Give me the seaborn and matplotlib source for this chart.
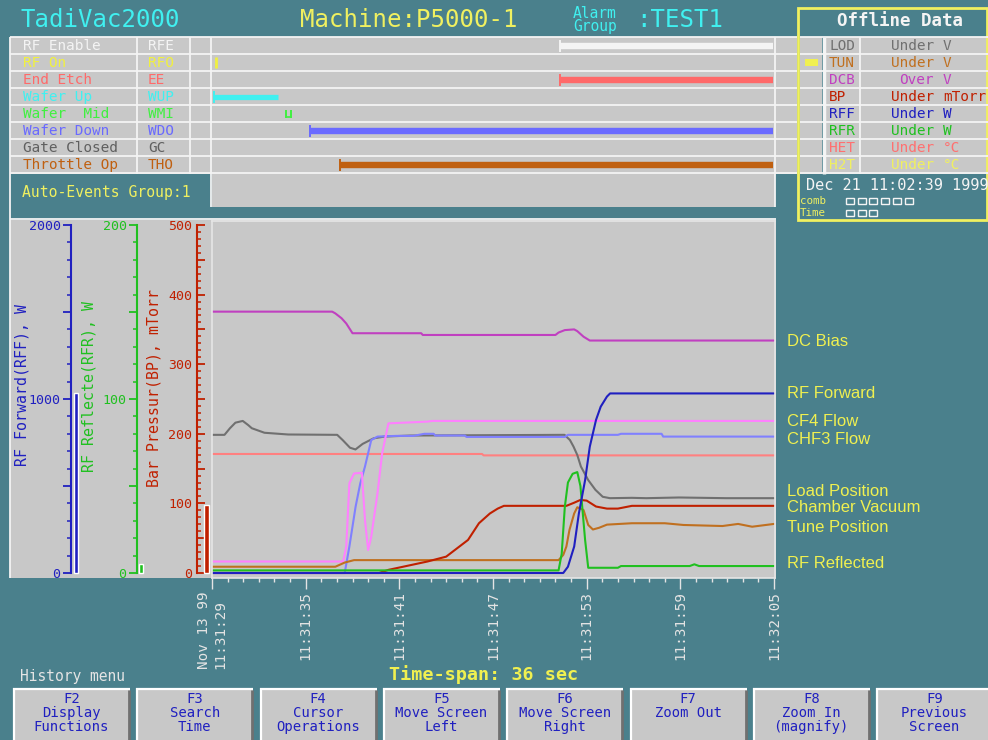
import numpy as np
import matplotlib
matplotlib.use("Agg")
import matplotlib.pyplot as plt
import seaborn as sns
from matplotlib.patches import Rectangle
from matplotlib.ticker import FixedLocator, MultipleLocator

W, H = 988, 740
TEAL = "#4a808c"
PANEL = "#c8c8c8"
WHITE = "#f4f4f4"
YELLOW = "#f0f050"
CYAN = "#40f0f0"
BTN_BLUE = "#2020c0"
TICK_C = "#e4e4e4"

# time axis (seconds from 11:31:29)
TIME_SPAN = 36
TIME_TICKS = [0, 6, 12, 18, 24, 30, 36]
TIME_LABELS = ["Nov 13 99\n11:31:29", "11:31:35", "11:31:41", "11:31:47",
               "11:31:53", "11:31:59", "11:32:05"]

# event table
EVENT_NAMES = ["RF Enable", "RF On", "End Etch", "Wafer Up", "Wafer  Mid",
               "Wafer Down", "Gate Closed", "Throttle Op"]
EVENT_CODES = ["RFE", "RFO", "EE", "WUP", "WMI", "WDO", "GC", "THO"]
EVENT_COLORS = ["#f4f4f4", "#f0f040", "#ff6a6a", "#40f0f0", "#40f040",
                "#6a6aff", "#606060", "#c06010"]
EVENT_START = [22.3, 0.25, 22.3, 0.1, 4.75, 6.3, np.nan, 8.2]
EVENT_END = [35.95, 0.25, 35.95, 4.2, 5.05, 35.95, np.nan, 35.95]

# offline data table
OFF_CODES = ["LOD", "TUN", "DCB", "BP", "RFF", "RFR", "HET", "H2T"]
OFF_COND = ["Under", "Under", "Over", "Under", "Under", "Under", "Under", "Under"]
OFF_UNITS = ["V", "V", "V", "mTorr", "W", "W", "°C", "°C"]
OFF_COLORS = ["#707070", "#c07020", "#c040c0", "#c02000", "#2020c0",
              "#20c020", "#ff7070", "#f0f060"]
OFF_FLAG = [0, 1, 0, 0, 0, 0, 0, 0]

# scale meters (full scale, current value)
RFF_FULL, RFF_NOW = 2000, 1036
RFR_FULL, RFR_NOW = 200, 5
BP_FULL, BP_NOW = 500, 97

# trends
DCB_T = [0, 7.7, 7.9, 8.3, 8.6, 9.0, 13.4, 13.5, 22.0, 22.2, 22.6, 23.2, 23.4, 23.8, 24.2, 36]
DCB_PCT = [75.1, 75.1, 74.6, 73.2, 71.7, 68.9, 68.9, 68.4, 68.4, 69.1, 69.8, 70.0, 69.5, 67.9, 66.8, 66.8]

LOD_T = [0, 0.8, 1.15, 1.5, 1.97, 2.32, 2.55, 3.36, 4.88, 8.02, 8.37, 8.84, 9.19, 9.65, 10.35, 11.05,
         12.68, 22.58, 22.93, 23.16, 23.4, 23.63, 24.1, 24.56, 25.03, 25.49, 26.89, 27.82, 29.92, 32.95, 36]
LOD_PCT = [39.7, 39.7, 41.6, 43.2, 43.7, 42.5, 41.6, 40.3, 39.8, 39.7, 38.2, 36.0, 35.5, 37.1, 38.7, 39.2,
           39.5, 39.7, 38.2, 36.3, 33.9, 30.6, 26.7, 23.9, 21.9, 21.5, 21.6, 21.5, 21.7, 21.5, 21.5]

CF4_T = [0, 8.4, 8.6, 8.8, 9.1, 9.6, 9.8, 10.0, 10.2, 10.6, 10.9, 11.3, 13.8, 14.1, 36]
CF4_PCT = [3.3, 3.3, 7.6, 25.8, 28.6, 28.8, 15.2, 6.6, 10.4, 22.9, 34.4, 43.0, 43.5, 43.7, 43.7]

CHF_T = [0, 8.5, 8.8, 9.2, 9.5, 9.8, 10.0, 10.2, 10.6, 11.8, 12.9, 13.6, 14.2, 14.3, 16.2, 16.3,
         22.6, 22.8, 26.0, 26.2, 28.8, 28.9, 36]
CHF_PCT = [0, 0, 7.6, 19.1, 25.8, 30.6, 34.4, 38.2, 39.2, 39.4, 39.4, 40.0, 40.0, 39.5, 39.5, 39.1,
           39.1, 39.7, 39.7, 40.0, 40.0, 39.2, 39.2]

HET_T = [0, 17.3, 17.4, 36]
HET_PCT = [34.2, 34.2, 33.8, 33.8]

BP_T = [0, 10.7, 11.3, 13.8, 15.0, 15.7, 16.4, 17.1, 17.8, 18.3, 18.7, 22.7, 23.2, 23.6, 24.0,
        24.6, 25.3, 26.0, 26.9, 36]
BP_MTORR = [0, 0, 4.5, 16.5, 23.5, 35.5, 47.5, 71.5, 85.5, 92.5, 96.5, 96.5, 101, 105, 104,
            95.5, 92.5, 92.5, 96.5, 96.5]

TUN_T = [0, 7.9, 8.5, 9.1, 22.2, 22.5, 22.7, 22.9, 23.2, 23.4, 23.8, 24.1, 24.4, 24.8, 25.3,
         26.9, 29.0, 30.2, 32.7, 33.7, 34.6, 36]
TUN_PCT = [1.8, 1.8, 3.0, 3.7, 3.7, 5.2, 7.6, 12.4, 17.1, 18.9, 18.1, 13.8, 12.5, 13.0, 13.9,
           14.3, 14.3, 13.8, 13.5, 14.1, 13.3, 14.1]

RFR_T = [0, 22.2, 22.4, 22.6, 22.8, 23.1, 23.4, 23.6, 23.9, 24.1, 26.0, 26.2, 30.6, 30.9, 31.2, 36]
RFR_W = [1.5, 1.5, 11, 38, 52, 57, 58, 50, 19, 3, 3, 4, 4, 5, 4, 4]

RFF_T = [0, 22.5, 22.8, 23.2, 23.5, 23.9, 24.2, 24.6, 24.9, 25.3, 25.5, 36]
RFF_W = [0, 0, 36, 152, 342, 534, 726, 880, 956, 1014, 1032, 1032]

# (times, values, full scale, colour) drawn back to front
SERIES = [
    (HET_T, HET_PCT, 100, "#ff8080"),
    (DCB_T, DCB_PCT, 100, "#c040c0"),
    (LOD_T, LOD_PCT, 100, "#707070"),
    (CHF_T, CHF_PCT, 100, "#8080ff"),
    (CF4_T, CF4_PCT, 100, "#ff80ff"),
    (TUN_T, TUN_PCT, 100, "#c07020"),
    (BP_T, BP_MTORR, BP_FULL, "#c02000"),
    (RFR_T, RFR_W, RFR_FULL, "#20c020"),
    (RFF_T, RFF_W, RFF_FULL, "#2020c0"),
]

TREND_NAMES = ["DC Bias", "RF Forward", "CF4 Flow", "CHF3 Flow", "Load Position",
               "Chamber Vacuum", "Tune Position", "RF Reflected"]
TREND_NAME_Y = [341, 393, 422, 440, 491, 508, 527, 563]

BUTTONS = ["F2\nDisplay\nFunctions", "F3\nSearch\nTime", "F4\nCursor\nOperations",
           "F5\nMove Screen\nLeft", "F6\nMove Screen\nRight", "F7\nZoom Out",
           "F8\nZoom In\n(magnify)", "F9\nPrevious\nScreen"]

sns.set_theme(style="white")
plt.rcParams["font.family"] = ["DejaVu Sans Mono", "DejaVu Sans"]

# pixel geometry of the trend area
PLOT_L, PLOT_R, PLOT_TOP, PLOT_BOT = 212, 775, 221, 578
ZERO_PX, FULL_PX = 573, 225
T_MAX = TIME_SPAN * (PLOT_R - PLOT_L) / (774 - PLOT_L)


def scale_lim(full):
    k = full / (ZERO_PX - FULL_PX)
    return (ZERO_PX - PLOT_BOT) * k, (ZERO_PX - PLOT_TOP) * k


fig = plt.figure(figsize=(W / 100, H / 100), dpi=100, facecolor=TEAL)


def px_axes(x0, y0, x1, y1):
    a = fig.add_axes([x0 / W, 1 - y1 / H, (x1 - x0) / W, (y1 - y0) / H])
    a.set_facecolor("none")
    return a


bg = px_axes(0, 0, W, H)
bg.set_xlim(0, W)
bg.set_ylim(H, 0)
bg.axis("off")


def box(x, y, w, h, fc, ec="none", lw=0):
    bg.add_patch(Rectangle((x, y), w, h, facecolor=fc, edgecolor=ec, linewidth=lw))


def hl(y, x0, x1, c=WHITE, lw=1.3):
    bg.plot([x0, x1], [y, y], color=c, lw=lw, solid_capstyle="butt")


def vl(x, y0, y1, c=WHITE, lw=1.3):
    bg.plot([x, x], [y0, y1], color=c, lw=lw, solid_capstyle="butt")


# header
bg.text(20, 20, "TadiVac2000", color=CYAN, fontsize=17.3, va="center")
bg.text(300, 20, "Machine:P5000-1", color="#f0f060", fontsize=17.3, va="center")
bg.text(573, 13, "Alarm", color=CYAN, fontsize=10.5, va="center")
bg.text(573, 27, "Group", color=CYAN, fontsize=10.5, va="center")
bg.text(636, 20, ":TEST1", color=CYAN, fontsize=17.3, va="center")

# panels
box(10, 37, 787, 137, PANEL)
box(212, 174, 563, 33, PANEL)
box(10, 220, 766, 358, PANEL)
box(800, 37, 22, 137, PANEL)
box(826, 37, 162, 137, PANEL)

for i in range(9):
    y = 37 + 17 * i
    hl(y, 10, 797)
    hl(y, 800, 988)
for x in (137, 190):
    vl(x, 37, 174)
for x in (211, 775):
    vl(x, 37, 207)
vl(824, 37, 174, lw=2.5)
vl(860, 37, 174)
vl(10, 37, 578)
hl(219, 10, 776)
bg.add_patch(Rectangle((798, 8), 189, 212, facecolor="none", edgecolor="#f0f060", linewidth=2))
bg.text(900, 21, "Offline Data", color=WHITE, fontsize=12.6, fontweight="bold",
        ha="center", va="center")

# event labels and offline rows
for i in range(8):
    yc = 37 + 17 * i + 9
    bg.text(23, yc, EVENT_NAMES[i], color=EVENT_COLORS[i], fontsize=10.4, va="center")
    bg.text(148, yc, EVENT_CODES[i], color=EVENT_COLORS[i], fontsize=10.4, va="center")
    bg.text(829, yc, OFF_CODES[i], color=OFF_COLORS[i], fontsize=10.4, va="center")
    bg.text(934, yc, OFF_COND[i], color=OFF_COLORS[i], fontsize=10.4, va="center", ha="right")
    bg.text(943, yc, OFF_UNITS[i], color=OFF_COLORS[i], fontsize=10.4, va="center")
    if OFF_FLAG[i]:
        box(805, yc - 4, 13, 7, "#f0f050")

bg.text(22, 192, "Auto-Events Group:1", color="#f0f060", fontsize=10.6, va="center")
bg.text(806, 186, "Dec 21 11:02:39 1999", color=WHITE, fontsize=11, va="center")
bg.text(800, 200.5, "comb", color="#f0f060", fontsize=7.8, va="center")
bg.text(800, 213, "Time", color="#f0f060", fontsize=7.8, va="center")
for j in range(6):
    box(846 + 11.7 * j, 198, 8, 6, "none", WHITE, 1)
for j in range(3):
    box(846 + 11.7 * j, 210, 8, 6, "none", WHITE, 1)

# axis titles of the scale meters
bg.text(22, 385, "RF Forward(RFF), W", color="#2020c0", fontsize=10.7, rotation=90,
        ha="center", va="center")
bg.text(89, 387, "RF Reflecte(RFR), W", color="#20c020", fontsize=10.7, rotation=90,
        ha="center", va="center")
bg.text(154, 388, "Bar Pressur(BP), mTorr", color="#c02000", fontsize=10.7, rotation=90,
        ha="center", va="center")

# trend names
for name, y in zip(TREND_NAMES, TREND_NAME_Y):
    bg.text(787, y, name, color=YELLOW, fontsize=12, va="center",
            family=["Liberation Sans", "DejaVu Sans"])

# bottom texts and buttons
bg.text(20, 677, "History menu", color=TICK_C, fontsize=10.5, va="center")
bg.text(389, 675, "Time-span: 36 sec", color="#f0f050", fontsize=13.3, fontweight="bold",
        va="center")
for i, lab in enumerate(BUTTONS):
    x0 = 13 + 123.3 * i
    box(x0, 688, 117, 60, PANEL)
    hl(689, x0, x0 + 117, c="#ffffff", lw=1.6)
    vl(x0 + 1, 688, 740, c="#ffffff", lw=1.6)
    vl(x0 + 116, 690, 740, c="#707070", lw=2)
    for k, line in enumerate(lab.split("\n")):
        bg.text(x0 + 58.5, 699 + 14 * k, line, color=BTN_BLUE, fontsize=10,
                ha="center", va="center")

# scale meters
def scale_axis(x0, x1, full, major, labeled, minor, color, bar_x, bar_w, now, direction, pad):
    a = px_axes(x0, PLOT_TOP, x1, PLOT_BOT)
    a.set_xlim(0, x1 - x0)
    a.set_ylim(*scale_lim(full))
    a.bar(bar_x, now, width=bar_w, color=color, align="edge")
    for s in ("top", "right", "bottom"):
        a.spines[s].set_visible(False)
    a.spines["left"].set_color(color)
    a.spines["left"].set_linewidth(1.5)
    a.spines["left"].set_bounds(0, full)
    a.set_xticks([])
    a.yaxis.set_major_locator(FixedLocator(major))
    a.set_yticklabels([str(m) if m in labeled else "" for m in major])
    a.yaxis.set_minor_locator(MultipleLocator(minor))
    a.tick_params(axis="y", which="major", left=True, direction=direction, length=6,
                  width=1.3, color=color, labelcolor=color, labelsize=9.5, pad=pad)
    a.tick_params(axis="y", which="minor", left=True, direction=direction, length=3,
                  width=1.1, color=color)
    return a


scale_axis(71, 81, RFF_FULL, [0, 500, 1000, 1500, 2000], [0, 1000, 2000], 100,
           "#2020c0", 3, 4, RFF_NOW, "out", 1.5)
scale_axis(137, 147, RFR_FULL, [0, 50, 100, 150, 200], [0, 100, 200], 10,
           "#20c020", 2.3, 4, RFR_NOW, "out", 1.5)
scale_axis(197, 211, BP_FULL, list(range(0, 501, 50)), [0, 100, 200, 300, 400, 500], 10,
           "#c02000", 7, 5, BP_NOW, "in", 3.5)

# event timeline
ev = px_axes(PLOT_L, 37, PLOT_R, 173)
ev.set_xlim(0, T_MAX)
ev.set_ylim(8, 0)
ev.axis("off")
for i in range(8):
    s, e, c = EVENT_START[i], EVENT_END[i], EVENT_COLORS[i]
    if np.isnan(s):
        continue
    if EVENT_CODES[i] == "WMI":
        ev.vlines([s, e], i + 0.3, i + 0.75, color=c, lw=1.4)
        ev.hlines(i + 0.7, s, e, color=c, lw=1.2)
    elif e - s < 0.01:
        ev.vlines(s, i + 0.15, i + 0.85, color=c, lw=2)
    else:
        ev.hlines(i + 0.55, s, e, color=c, lw=3.8 if EVENT_CODES[i] == "WUP" else 4.6)
        ev.vlines(s, i + 0.2, i + 0.9, color=c, lw=1.4)

# trend area
ax = px_axes(PLOT_L, PLOT_TOP, PLOT_R, PLOT_BOT)
for t, v, full, col in SERIES:
    pct = np.asarray(v, float) / full * 100
    sns.lineplot(x=t, y=pct, ax=ax, color=col, lw=1.5, estimator=None, sort=False, legend=False)
ax.set_xlim(0, T_MAX)
ax.set_ylim(*scale_lim(100))
ax.set_xlabel("")
ax.set_ylabel("")
ax.set_yticks([])
ax.xaxis.set_major_locator(FixedLocator(TIME_TICKS))
ax.set_xticklabels(TIME_LABELS, rotation=90, color=TICK_C, fontsize=10.3)
for lab in ax.get_xticklabels():
    lab.set_multialignment("left")
ax.xaxis.set_minor_locator(MultipleLocator(1))
ax.tick_params(axis="x", which="major", bottom=True, direction="out", length=8,
               width=1, color=TICK_C, pad=1.5)
ax.tick_params(axis="x", which="minor", bottom=True, direction="out", length=3,
               width=1, color=TICK_C)
for s in ax.spines.values():
    s.set_color("#e6e6e6")
    s.set_linewidth(1.2)

fig.savefig("out.png", dpi=100, facecolor=TEAL)
